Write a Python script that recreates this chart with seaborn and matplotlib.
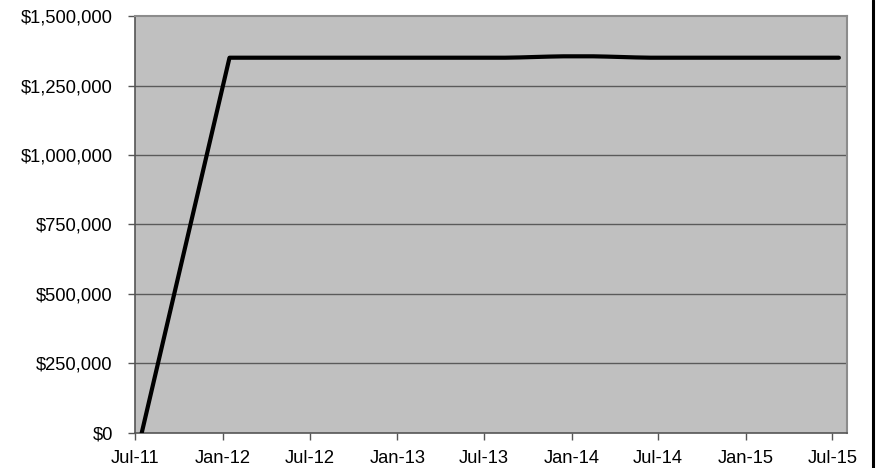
import matplotlib
matplotlib.use("Agg")
import matplotlib.pyplot as plt
import matplotlib.dates as mdates
from matplotlib.lines import Line2D
from matplotlib.ticker import FuncFormatter
import pandas as pd
import seaborn as sns

# Monthly balance, sampled mid-month
start_date = "2011-07-15"
monthly_start = "2012-01-01"
n_months = 43
balance = [
    0,
    1350000, 1350000, 1350000, 1350000, 1350000, 1350000,
    1350000, 1350000, 1350000, 1350000, 1350000, 1350000,
    1350000, 1350000, 1350000, 1350000, 1350000, 1350000,
    1350000, 1350000,
    1351000, 1352500, 1354000, 1355000, 1355000, 1355000,
    1354000, 1352500, 1351000, 1350000,
    1350000, 1350000, 1350000, 1350000, 1350000, 1350000,
    1350000, 1350000, 1350000, 1350000, 1350000, 1350000,
    1350000,
]
y_ticks = [0, 250000, 500000, 750000, 1000000, 1250000, 1500000]
x_range = ("2011-07-01", "2015-08-01")

dates = [pd.Timestamp(start_date)] + list(
    pd.date_range(monthly_start, periods=n_months, freq="MS") + pd.Timedelta(days=14)
)
df = pd.DataFrame({"date": dates, "balance": balance})

sns.set_style("ticks", {"axes.facecolor": "#C0C0C0"})
plt.rcParams["font.family"] = ["Liberation Sans", "DejaVu Sans"]

fig = plt.figure(figsize=(8.9, 4.68), dpi=100)
ax = fig.add_axes([0.1517, 0.0748, 0.8, 0.891])

for v in y_ticks[1:-1]:
    ax.axhline(v, color="#5a5a5a", linewidth=1.0, zorder=1)

sns.lineplot(data=df, x="date", y="balance", ax=ax, color="black",
             linewidth=3.0, zorder=3, solid_capstyle="round")

ax.set_xlim(pd.Timestamp(x_range[0]), pd.Timestamp(x_range[1]))
ax.set_ylim(y_ticks[0], y_ticks[-1])
ax.set_yticks(y_ticks)
ax.yaxis.set_major_formatter(FuncFormatter(lambda v, p: f"${v:,.0f}"))
ax.xaxis.set_major_locator(mdates.MonthLocator(bymonth=[1, 7]))
ax.xaxis.set_major_formatter(mdates.DateFormatter("%b-%y"))
ax.set_xlabel("")
ax.set_ylabel("")

for side in ["top", "right"]:
    ax.spines[side].set_visible(True)
    ax.spines[side].set_color("#8c8c8c")
    ax.spines[side].set_linewidth(1.5)
for side in ["left", "bottom"]:
    ax.spines[side].set_color("#555555")
    ax.spines[side].set_linewidth(1.2)

ax.tick_params(axis="both", direction="out", length=5, width=1.0,
               color="#555555", labelsize=13.2, labelcolor="black")
ax.tick_params(axis="y", pad=11)
ax.tick_params(axis="x", pad=7)

# outer frame edge on the right
fig.add_artist(Line2D([873 / 890, 873 / 890], [0, 1], color="black",
                      linewidth=2.2, transform=fig.transFigure))

fig.savefig("out.png", dpi=100, facecolor="white")
